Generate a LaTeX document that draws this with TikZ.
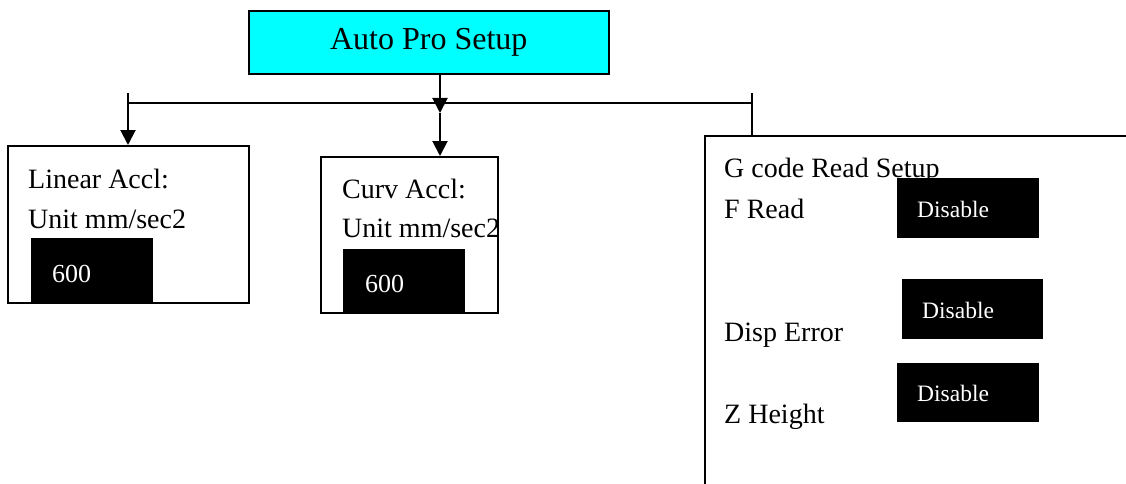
\documentclass[tikz,border=0pt]{standalone}
\usepackage{fontspec}
\setmainfont{Liberation Serif}
\usetikzlibrary{arrows.meta}
\definecolor{titlecyan}{RGB}{0,255,255}
\begin{document}
\begin{tikzpicture}[x=1pt,y=-1pt,
  frame/.style={draw=black, line width=1.6pt, fill=white, inner sep=0pt, anchor=north west},
  blackbox/.style={fill=black, draw=none, inner sep=0pt, anchor=north west},
  lbl/.style={anchor=base west, inner sep=0pt, font=\fontsize{28}{30}\selectfont},
  wlbl/.style={anchor=base west, inner sep=0pt, text=white},
  conn/.style={line width=2pt},
  arr/.style={conn, -{Triangle[width=15pt,length=15pt]}}]
\useasboundingbox (0,0) rectangle (1126,484);
\clip (0,0) rectangle (1126,484);
% frames
\node[frame, fill=titlecyan, minimum width=360pt, minimum height=63pt,
      font=\fontsize{32}{34}\selectfont] (title) at (248,10) {Auto Pro Setup};
\node[frame, minimum width=241pt, minimum height=157pt] (lin) at (7,145) {};
\node[frame, minimum width=177pt, minimum height=156pt] (curv) at (320,156) {};
\node[frame, minimum width=500pt, minimum height=400pt] (gcode) at (704,135) {};
% connectors
\coordinate (jl) at (128,93);
\coordinate (jr) at (752,93);
\coordinate (hl) at (128,103);
\coordinate (hr) at (752,103);
\coordinate (ax) at (440,73);
\coordinate (hj) at (440,113);
\draw[conn] (hl) -- (hr);
\draw[arr] (jl) -- (lin.north -| jl);
\draw[conn] (jr) -- (gcode.north -| jr);
\draw[arr] (title.south -| ax) -- (hj);
\draw[arr] (hj) -- (curv.north -| hj);
% texts
\node[lbl] (t1) at (28,188) {Linear Accl:};
\node[lbl] (t2) at (28,228) {Unit mm/sec2};
\node[lbl] (t3) at (342,198) {Curv Accl:};
\node[lbl] (t4) at (342,237) {Unit mm/sec2};
\node[lbl] (t5) at (724,177) {G code Read Setup};
\node[lbl] (t6) at (724,218) {F Read};
\node[lbl] (t7) at (724,341) {Disp Error};
\node[lbl] (t8) at (724,423) {Z Height};
% black value boxes
\node[blackbox, minimum width=122pt, minimum height=64pt] (v1) at (31,238) {};
\node[blackbox, minimum width=122pt, minimum height=63pt] (v2) at (343,249) {};
\node[blackbox, minimum width=142pt, minimum height=60pt] (v3) at (897,178) {};
\node[blackbox, minimum width=141pt, minimum height=60pt] (v4) at (902,279) {};
\node[blackbox, minimum width=142pt, minimum height=59pt] (v5) at (897,363) {};
% values
\node[wlbl, font=\fontsize{26}{28}\selectfont] (n1) at (52,282) {600};
\node[wlbl, font=\fontsize{26}{28}\selectfont] (n2) at (365,292) {600};
\node[wlbl, font=\fontsize{23.5}{25}\selectfont] (d1) at (917,217) {Disable};
\node[wlbl, font=\fontsize{23.5}{25}\selectfont] (d2) at (922,318) {Disable};
\node[wlbl, font=\fontsize{23.5}{25}\selectfont] (d3) at (917,401) {Disable};
\end{tikzpicture}
\end{document}
